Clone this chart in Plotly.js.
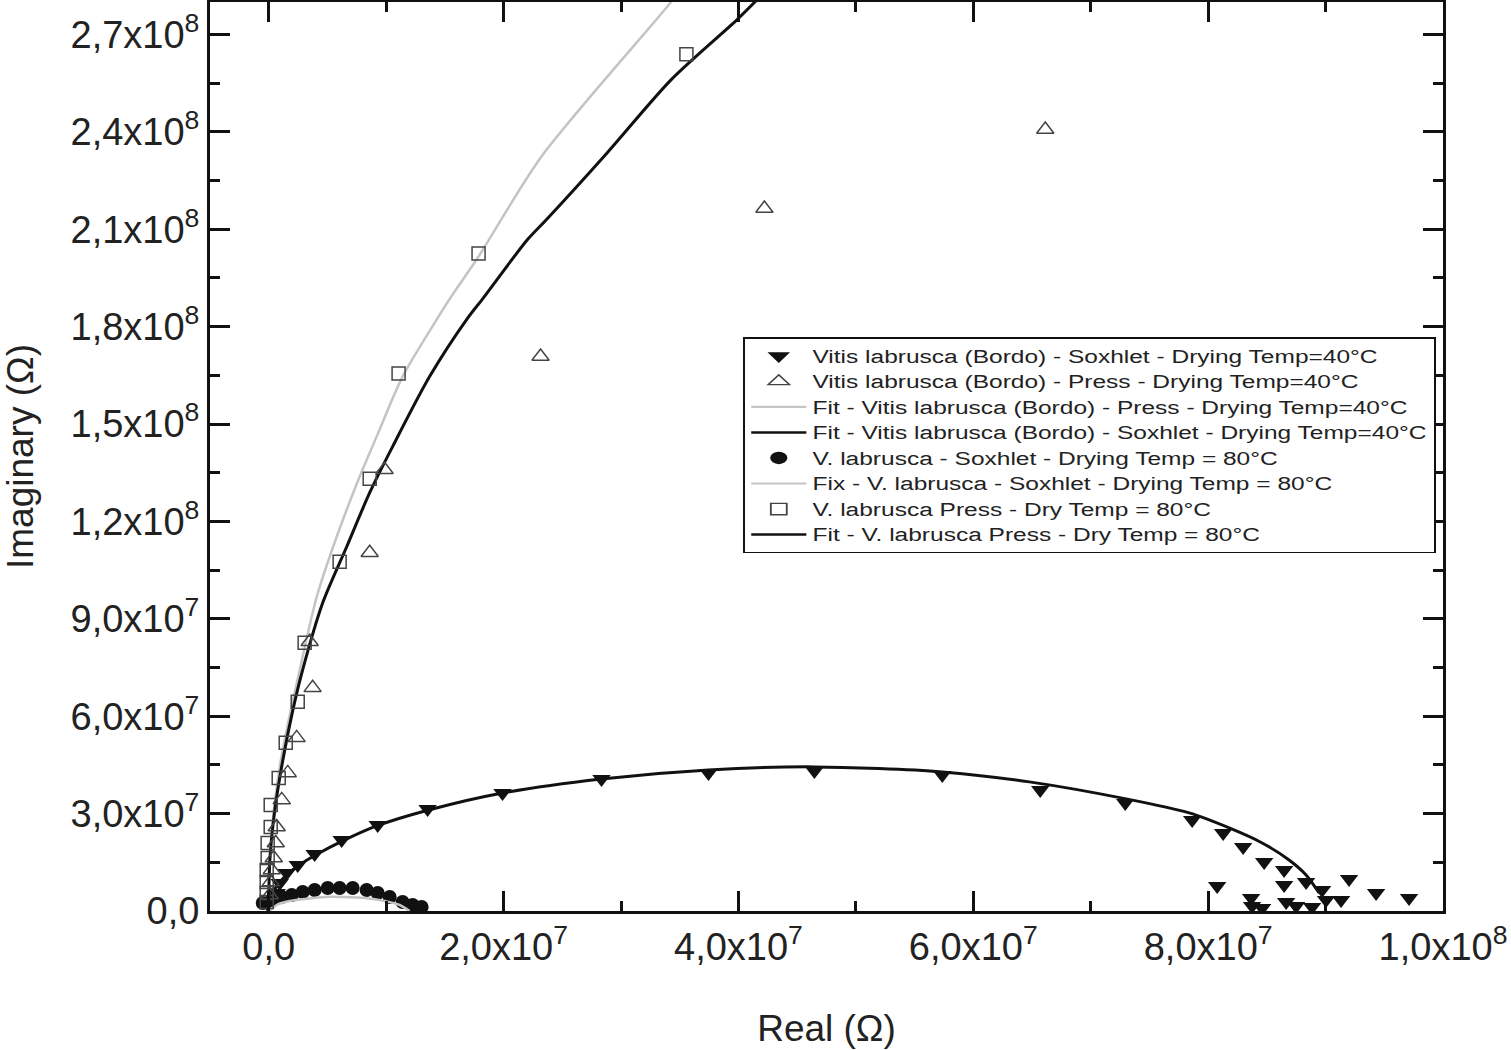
<!DOCTYPE html>
<html>
<head>
<meta charset="utf-8">
<script src="https://cdn.plot.ly/plotly-3.0.1.min.js"></script>
<style>html,body{margin:0;padding:0;background:#fff;}#chart{width:1511px;height:1050px;}</style>
</head>
<body>
<div id="chart"></div>
<script>
// Values in units of 1e6 Ohm
const soxhlet40X = [-0.17,0.68,0.94,1.53,2.47,3.91,6.21,9.28,13.53,19.91,28.34,37.45,46.47,57.36,65.70,72.94,78.64,81.28,82.98,84.77,86.47,88.34,86.47,80.77,92.0,94.30,97.11,83.66,83.74,86.64,87.49,89.70,90.04,91.32,88.85,84.60];
const soxhlet40Y = [2.47,5.55,8.63,11.71,14.18,17.57,21.89,26.51,31.44,36.37,40.69,42.54,43.16,41.92,37.30,33.29,28.05,24.04,19.73,15.10,12.64,8.94,8.01,7.71,9.86,5.55,4.01,4.01,1.54,2.77,1.54,6.47,3.39,3.39,1.23,0.92];

const press40X = [66.13,42.21,23.15,9.87,8.60,3.49,3.74,2.38,1.62,1.11,0.68,0.60,0.43,0.26,0.17,0.09];
const press40Y = [240.75,216.40,170.78,135.94,110.36,82.92,68.74,53.33,42.54,34.22,25.89,20.96,16.34,12.64,8.94,4.93];

const fitPress40X = [0,0.09,0.43,1.02,1.87,2.64,4.09,5.79,7.74,9.19,11.40,14.30,15.49,17.87,23.23,34.30,34.55];
const fitPress40Y = [0,15.41,30.83,46.24,61.65,74.29,96.79,115.29,133.79,146.12,164.61,182.18,188.96,201.60,232.43,280.21,281.75];

const fitSoxhlet40X = [0,0.26,0.94,2.47,4.0,6.30,9.19,13.62,19.91,28.34,37.45,46.47,57.36,64.77,73.02,78.38,81.79,84.60,86.89,88.34,89.45];
const fitSoxhlet40Y = [0,4.93,8.94,13.87,17.26,21.58,26.20,31.13,36.37,40.69,43.47,44.39,42.85,39.77,34.53,30.21,25.59,20.96,15.72,11.10,5.55];

const soxhlet80X = [-0.51,0.26,1.11,1.96,2.89,3.91,5.02,6.04,7.15,8.34,9.28,10.30,11.40,12.26,13.02];
const soxhlet80Y = [2.47,3.39,4.32,4.93,5.86,6.47,7.09,7.09,7.09,6.47,5.55,4.32,2.77,1.85,1.23];

const fitSoxhlet80X = [0.09,0.68,1.79,3.06,4.77,6.47,8.17,9.87,11.15,12.0];
const fitSoxhlet80Y = [0,1.85,3.08,3.70,4.32,4.32,4.01,3.08,1.85,0];

const press80X = [35.57,17.87,11.06,8.60,6.04,3.06,2.47,1.45,0.85,0.17,0.17,-0.09,-0.09,-0.17,-0.17,-0.17,-0.17];
const press80Y = [263.87,202.53,165.54,133.17,107.58,82.61,64.43,51.79,41.00,32.68,25.89,20.96,16.34,12.64,8.94,5.55,2.77];

const fitPress80X = [0,0.09,0.51,1.19,2.04,2.89,4.60,6.64,8.60,10.55,13.70,16.85,18.30,22.04,23.66,28.85,34.30,39.91,42.04];
const fitPress80Y = [0,15.41,30.83,46.24,61.65,74.29,94.94,112.21,128.85,143.03,164.61,182.18,188.96,206.84,213.0,233.66,256.17,274.66,282.37];

const names = [
  'Vitis labrusca (Bordo) - Soxhlet - Drying Temp=40°C',
  'Vitis labrusca (Bordo) - Press - Drying Temp=40°C',
  'Fit - Vitis labrusca (Bordo) - Press - Drying Temp=40°C',
  'Fit - Vitis labrusca (Bordo) - Soxhlet - Drying Temp=40°C',
  'V. labrusca - Soxhlet - Drying Temp = 80°C',
  'Fix - V. labrusca - Soxhlet - Drying Temp = 80°C',
  'V. labrusca Press - Dry Temp = 80°C',
  'Fit - V. labrusca Press - Dry Temp = 80°C'
];

const xTickVals = [0,2e7,4e7,6e7,8e7,1e8];
const xTickText = ['0,0','2,0x10<sup>7</sup>','4,0x10<sup>7</sup>','6,0x10<sup>7</sup>','8,0x10<sup>7</sup>','1,0x10<sup>8</sup>'];
const xMinorVals = [1e7,3e7,5e7,7e7,9e7];
const yTickVals = [0,3e7,6e7,9e7,1.2e8,1.5e8,1.8e8,2.1e8,2.4e8,2.7e8];
const yTickText = ['0,0','3,0x10<sup>7</sup>','6,0x10<sup>7</sup>','9,0x10<sup>7</sup>','1,2x10<sup>8</sup>','1,5x10<sup>8</sup>','1,8x10<sup>8</sup>','2,1x10<sup>8</sup>','2,4x10<sup>8</sup>','2,7x10<sup>8</sup>'];
const yMinorVals = [1.5e7,4.5e7,7.5e7,1.05e8,1.35e8,1.65e8,1.95e8,2.25e8,2.55e8];

const sc = v => v.map(a => a * 1e6);

const tSox40 = {x: sc(soxhlet40X), y: sc(soxhlet40Y), name: names[0], legendrank:1, type:'scatter', mode:'markers',
   marker:{symbol:'triangle-down', size:16, color:'#111'}};
const tPress40 = {x: sc(press40X), y: sc(press40Y), name: names[1], legendrank:2, type:'scatter', mode:'markers',
   marker:{symbol:'triangle-up-open', size:15, color:'#444', line:{width:1.5, color:'#444'}}};
const tFitPress40 = {x: sc(fitPress40X), y: sc(fitPress40Y), name: names[2], legendrank:3, type:'scatter', mode:'lines',
   line:{color:'#c4c4c4', width:2.5, shape:'spline', smoothing:0.8}};
const tFitSox40 = {x: sc(fitSoxhlet40X), y: sc(fitSoxhlet40Y), name: names[3], legendrank:4, type:'scatter', mode:'lines',
   line:{color:'#111', width:3, shape:'spline', smoothing:0.8}};
const tSox80 = {x: sc(soxhlet80X), y: sc(soxhlet80Y), name: names[4], legendrank:5, type:'scatter', mode:'markers',
   marker:{symbol:'circle', size:14, color:'#111'}};
const tFitSox80 = {x: sc(fitSoxhlet80X), y: sc(fitSoxhlet80Y), name: names[5], legendrank:6, type:'scatter', mode:'lines',
   line:{color:'#c4c4c4', width:2.5, shape:'spline', smoothing:0.8}};
const tPress80 = {x: sc(press80X), y: sc(press80Y), name: names[6], legendrank:7, type:'scatter', mode:'markers',
   marker:{symbol:'square-open', size:13, color:'#444', line:{width:1.5, color:'#444'}}};
const tFitPress80 = {x: sc(fitPress80X), y: sc(fitPress80Y), name: names[7], legendrank:8, type:'scatter', mode:'lines',
   line:{color:'#111', width:3, shape:'spline', smoothing:0.8}};

// drawing order: filled markers, fit lines, open markers on top
const traces = [tSox40, tSox80, tFitPress40, tFitPress80, tFitSox40, tFitSox80, tPress40, tPress80];

const tickFont = {family:'Liberation Sans, Arial, sans-serif', size:38, color:'#222'};
const axisCommon = {
  showgrid:false, zeroline:false, showline:true, linewidth:3, linecolor:'#111',
  mirror:'ticks', ticks:'inside', ticklen:20, tickwidth:3, tickcolor:'#111',
  tickfont:tickFont, tickmode:'array'
};

const layout = {
  width:1511, height:1050,
  margin:{l:210, r:68, t:2, b:139},
  paper_bgcolor:'#fff', plot_bgcolor:'#fff',
  font:{family:'Liberation Sans, Arial, sans-serif', color:'#222'},
  showlegend:true,
  xaxis: Object.assign({}, axisCommon, {
    range:[-5e6, 1e8], tickvals:xTickVals, ticktext:xTickText,
    minor:{tickmode:'array', tickvals:xMinorVals, ticks:'inside', ticklen:10, tickwidth:3, tickcolor:'#111'},
    title:{text:'Real (Ω)', font:{size:37, color:'#222'}, standoff:49}
  }),
  yaxis: Object.assign({}, axisCommon, {
    range:[0, 2.8e8], tickvals:yTickVals, ticktext:yTickText,
    minor:{tickmode:'array', tickvals:yMinorVals, ticks:'inside', ticklen:10, tickwidth:3, tickcolor:'#111'},
    title:{text:'Imaginary (Ω)', font:{size:37, color:'#222'}, standoff:28}
  }),
  legend:{
    x:0.432, y:0.6315, xanchor:'left', yanchor:'top',
    bgcolor:'#fff', bordercolor:'#111', borderwidth:2,
    font:{family:'Liberation Sans, Arial, sans-serif', size:20, color:'#222'},
    tracegroupgap:0, itemwidth:45
  }
};

Plotly.newPlot('chart', traces, layout, {displayModeBar:false, staticPlot:true}).then(function(gd){
  // the reference legend is drawn wide and tightly spaced
  const lg = gd.querySelector('.legend');
  if (lg) {
    const t = lg.getAttribute('transform') || '';
    lg.setAttribute('transform', t + ' scale(1.225,0.88)');
  }
});
</script>
</body>
</html>
